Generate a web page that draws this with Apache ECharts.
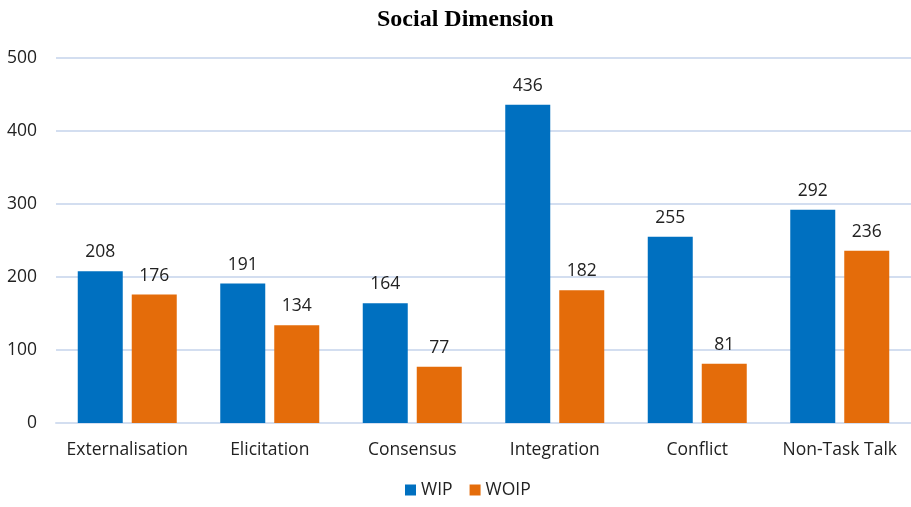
<!DOCTYPE html>
<html><head><meta charset="utf-8">
<script src="https://cdn.jsdelivr.net/npm/echarts@6/dist/echarts.min.js"></script>
<style>html,body{margin:0;padding:0;background:#fff}#c{width:911px;height:507px}</style>
</head><body><div id="c"></div>
<script>
var categories = ['Externalisation','Elicitation','Consensus','Integration','Conflict','Non-Task Talk'];
var wip = [208,191,164,436,255,292];
var woip = [176,134,77,182,81,236];
var yTicks = [0,100,200,300,400,500];

var chart = echarts.init(document.getElementById('c'));
var font = 'Open Sans';
var fs = 17.5;
chart.setOption({
  animation:false,
  title:{text:'Social Dimension',left:372,top:3,textStyle:{fontFamily:'Liberation Serif',fontWeight:'bold',fontSize:24,color:'#000'}},
  legend:{bottom:3,left:400,itemWidth:11,itemHeight:11,itemGap:17,icon:'rect',
    textStyle:{fontFamily:font,fontSize:fs,color:'#222'},data:['WIP','WOIP']},
  grid:{left:56,top:58,width:861,height:365,containLabel:false},
  xAxis:{type:'category',data:categories,
    axisLine:{lineStyle:{color:'#D3DEF0',width:2}},axisTick:{show:false},
    axisLabel:{interval:0,fontFamily:font,fontSize:fs,color:'#222',margin:18}},
  yAxis:{type:'value',min:0,max:500,interval:100,
    axisLine:{show:false},axisTick:{show:false},
    splitLine:{lineStyle:{color:'#D3DEF0',width:2}},
    axisLabel:{fontFamily:font,fontSize:fs,color:'#222',margin:19,
      formatter:function(v){return yTicks.indexOf(v)>=0?String(v):'';}}},
  series:[
    {name:'WIP',type:'bar',data:wip,barWidth:45,barGap:'20%',itemStyle:{color:'#0070C0'},
     label:{show:true,position:'top',distance:10,fontFamily:font,fontSize:fs,color:'#222'}},
    {name:'WOIP',type:'bar',data:woip,barWidth:45,itemStyle:{color:'#E46C0A'},
     label:{show:true,position:'top',distance:10,fontFamily:font,fontSize:fs,color:'#222'}}
  ]
});
</script></body></html>
